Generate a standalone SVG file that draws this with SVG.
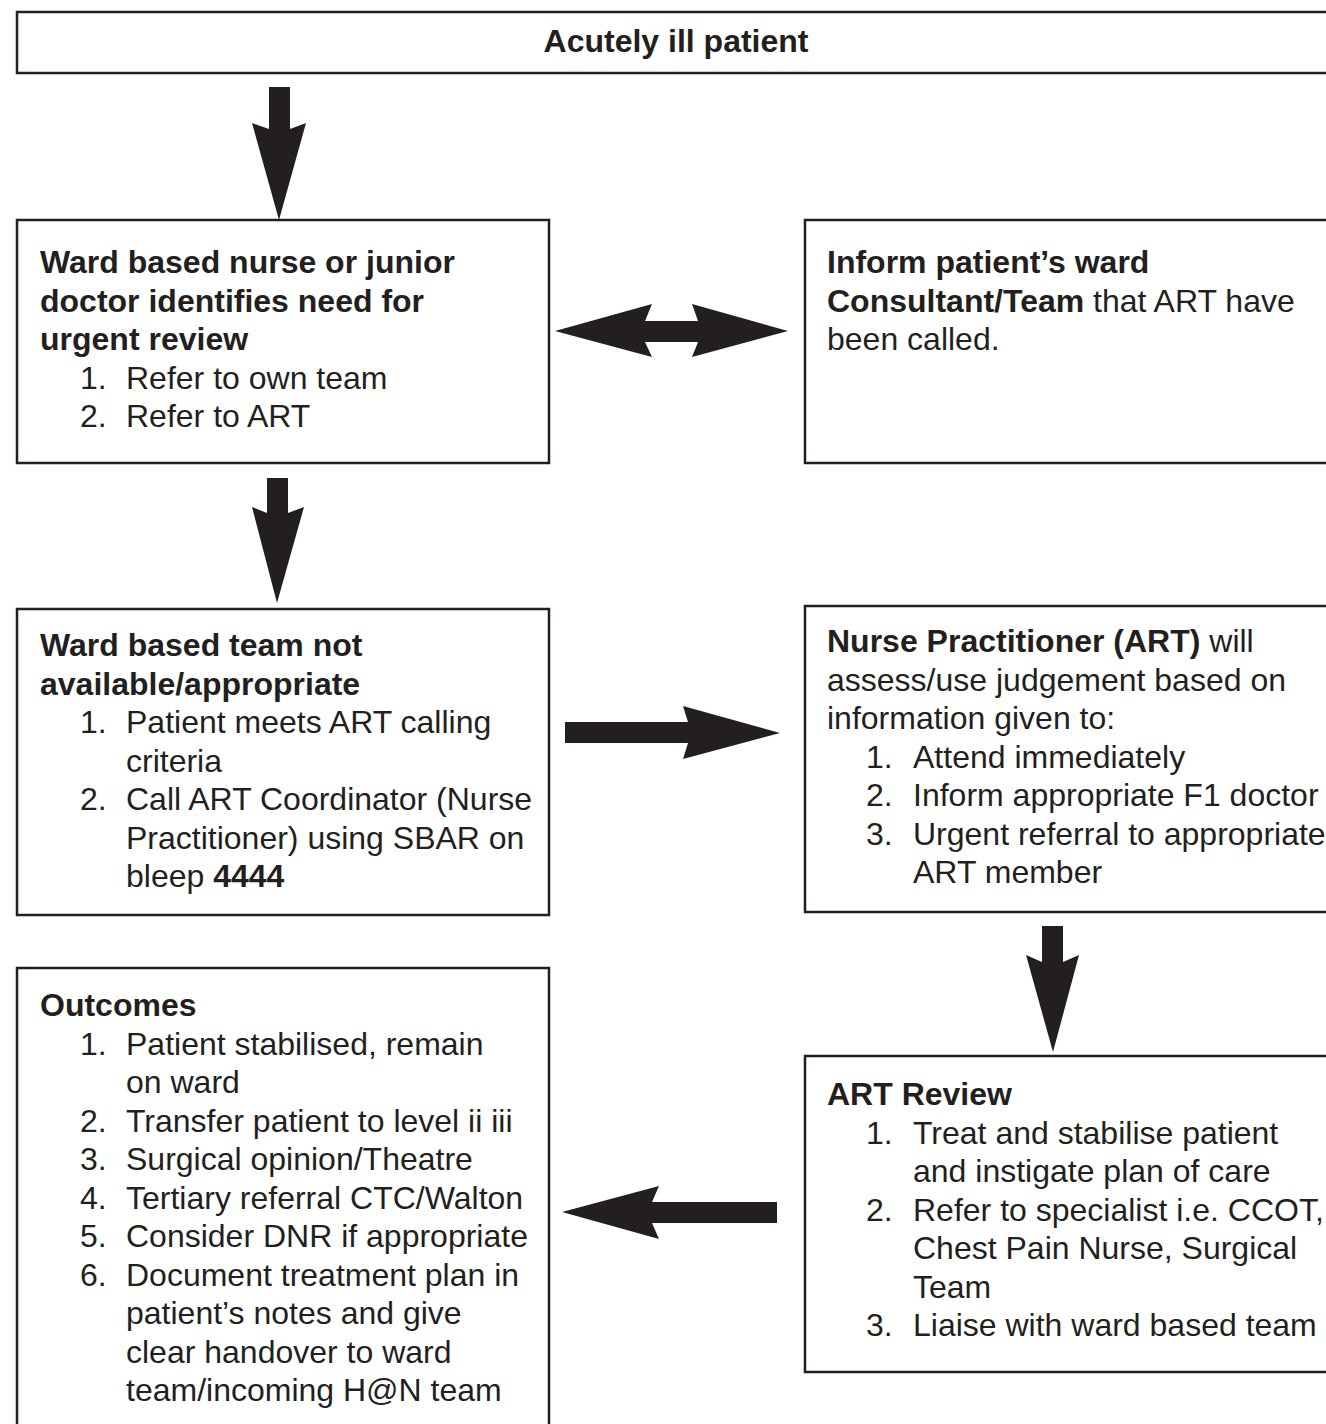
<svg xmlns="http://www.w3.org/2000/svg" width="1326" height="1424" viewBox="0 0 1326 1424">
<style>
.box{fill:#fff;stroke:#231f20;stroke-width:2.5}
text{font-family:"Liberation Sans",Arial,Helvetica,sans-serif;font-size:32px;fill:#231f20}
.b{font-weight:bold}
.arr{fill:#231f20}
</style>
<rect width="1326" height="1424" fill="#fff"/>
<g id="n-acute">
<rect class="box" x="17" y="12" width="1330" height="61"/>
<text class="b" x="676" y="52" text-anchor="middle">Acutely ill patient</text>
</g>
<g id="n-ward-nurse">
<rect class="box" x="17" y="220" width="532" height="243"/>
<text class="b" x="40" y="273">Ward based nurse or junior</text>
<text class="b" x="40" y="311.5">doctor identifies need for</text>
<text class="b" x="40" y="350">urgent review</text>
<text x="80" y="388.5">1.</text><text x="126" y="388.5">Refer to own team</text>
<text x="80" y="427">2.</text><text x="126" y="427">Refer to ART</text>
</g>
<g id="n-inform">
<rect class="box" x="805" y="220" width="540" height="243"/>
<text class="b" x="827" y="273">Inform patient’s ward</text>
<text x="827" y="311.5"><tspan class="b">Consultant/Team</tspan> that ART have</text>
<text x="827" y="350">been called.</text>
</g>
<g id="n-ward-team">
<rect class="box" x="17" y="609" width="532" height="306"/>
<text class="b" x="40" y="656">Ward based team not</text>
<text class="b" x="40" y="694.5">available/appropriate</text>
<text x="80" y="733">1.</text><text x="126" y="733">Patient meets ART calling</text>
<text x="126" y="771.5">criteria</text>
<text x="80" y="810">2.</text><text x="126" y="810">Call ART Coordinator (Nurse</text>
<text x="126" y="848.5">Practitioner) using SBAR on</text>
<text x="126" y="887">bleep <tspan class="b">4444</tspan></text>
</g>
<g id="n-np">
<rect class="box" x="805" y="606" width="540" height="306"/>
<text x="827" y="652"><tspan class="b">Nurse Practitioner (ART)</tspan> will</text>
<text x="827" y="690.5">assess/use judgement based on</text>
<text x="827" y="729">information given to:</text>
<text x="866" y="767.5">1.</text><text x="913" y="767.5">Attend immediately</text>
<text x="866" y="806">2.</text><text x="913" y="806">Inform appropriate F1 doctor</text>
<text x="866" y="844.5">3.</text><text x="913" y="844.5">Urgent referral to appropriate</text>
<text x="913" y="883">ART member</text>
</g>
<g id="n-outcomes">
<rect class="box" x="17" y="968" width="532" height="480"/>
<text class="b" x="40" y="1016">Outcomes</text>
<text x="80" y="1054.5">1.</text><text x="126" y="1054.5">Patient stabilised, remain</text>
<text x="126" y="1093">on ward</text>
<text x="80" y="1131.5">2.</text><text x="126" y="1131.5">Transfer patient to level ii iii</text>
<text x="80" y="1170">3.</text><text x="126" y="1170">Surgical opinion/Theatre</text>
<text x="80" y="1208.5">4.</text><text x="126" y="1208.5">Tertiary referral CTC/Walton</text>
<text x="80" y="1247">5.</text><text x="126" y="1247">Consider DNR if appropriate</text>
<text x="80" y="1285.5">6.</text><text x="126" y="1285.5">Document treatment plan in</text>
<text x="126" y="1324">patient’s notes and give</text>
<text x="126" y="1362.5">clear handover to ward</text>
<text x="126" y="1401">team/incoming H@N team</text>
</g>
<g id="n-review">
<rect class="box" x="805" y="1056" width="540" height="316"/>
<text class="b" x="827" y="1105">ART Review</text>
<text x="866" y="1143.5">1.</text><text x="913" y="1143.5">Treat and stabilise patient</text>
<text x="913" y="1182">and instigate plan of care</text>
<text x="866" y="1220.5">2.</text><text x="913" y="1220.5">Refer to specialist i.e. CCOT,</text>
<text x="913" y="1259">Chest Pain Nurse, Surgical</text>
<text x="913" y="1297.5">Team</text>
<text x="866" y="1336">3.</text><text x="913" y="1336">Liaise with ward based team</text>
</g>
<g id="connectors">
<polygon class="arr" points="269,87 290,87 290,129 306,123 279,220 252,123 269,129"/>
<polygon class="arr" points="267,478 288,478 288,513 304,507 277,603 252,507 267,513"/>
<polygon class="arr" points="1042,926 1063,926 1063,962 1079,955 1053,1052 1026,955 1042,962"/>
<polygon class="arr" points="555,331 652,304 645,321 698,321 692,304 788,331 692,357 698,342 645,342 652,357"/>
<polygon class="arr" points="565,722 688,722 683,706 780,733 683,759 688,743 565,743"/>
<polygon class="arr" points="777,1202 652,1202 659,1186 562,1212 659,1239 652,1223 777,1223"/>
</g>
</svg>
